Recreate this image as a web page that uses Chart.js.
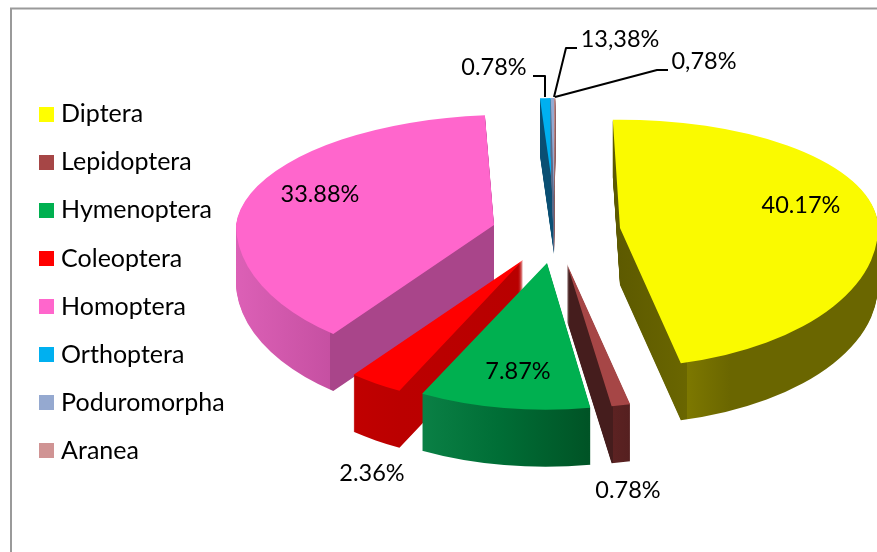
<!DOCTYPE html>
<html><head><meta charset="utf-8">
<style>html,body{margin:0;padding:0;background:#fff;overflow:hidden}canvas{display:block}</style>
<script src="https://cdn.jsdelivr.net/npm/chart.js@4"></script>
</head><body>
<div style="width:877px;height:552px;position:relative"><canvas id="c" width="877" height="552"></canvas></div>
<script>
// Legend categories
const categories = ['Diptera','Lepidoptera','Hymenoptera','Coleoptera','Homoptera','Orthoptera','Poduromorpha','Aranea'];
// Percentages as printed on the reference
const printedLabels = ['40.17%','0.78%','7.87%','2.36%','33.88%','0.78%','13,38%','0,78%'];
// Slice shares as actually drawn in the reference (angles; they differ from the printed text there)
const drawnShares = [46.7,1.11,10.14,3.2,37.9,0.67,0.22,0.06];
const topColors = ['#fafa00','#a64646','#00b050','#ff0000','#ff66cc','#00b0f0','#95a9d0','#d09494'];
const legendColors = ['#ffff00','#a64646','#00b050','#ff0000','#ff66cc','#00b0f0','#95a9d0','#d09494'];

// Style / layout tables
const DEPTH = 57, RADIUS = 258;
const apex = [[620,228],[567,264],[547,263],[523,260],[494,225],[554,197],[554,197],[554,197]];
const scaleX = [1,1.05,1.054,1.054,1,1,1,1];
const kBack = [.42,.42,.42,.42,.427,.384,.384,.384];
const kFront = [.539,.559,.569,.569,.54,.5,.5,.5];
const shearBack = [0,0,0,0,-.123,-.086,-.086,-.086];
const shearFront = [.005,0,-.01,0,0,0,0,0];
// wall colour stops: [x, colour] in page x
const wallStops = [
 [[613,'#5c5900'],[686,'#6a6600'],[686.01,'#7d7800'],[730,'#6a6600'],[877,'#6a6600']],
 [[567,'#451d1d'],[613,'#451d1d'],[613.01,'#5c2222'],[630,'#552020']],
 [[424,'#0a8045'],[500,'#006e36'],[589,'#005426']],
 [[357,'#c00000'],[400,'#bb0000'],[523,'#b80000']],
 [[236,'#dc60b6'],[330,'#c650a2'],[330.01,'#a9458a'],[496,'#a9458a']],
 [[539,'#0a4f73'],[556,'#0a4f73']],
 [[539,'#5a6a8a'],[560,'#5a6a8a']],
 [[539,'#8a5a5a'],[560,'#8a5a5a']]
];
const drawOrder = [4,5,6,7,0,3,1,2];
// Label anchors (centre of text) and leader lines
const labelAnchors = [[801,205],[628,490],[518,371],[372,473],[320,194],[494,67],[620,39],[704,61]];
const leaders = [[[533,76],[545,76],[545,97]],[[577,48],[566,48],[554,97]],[[668,70],[657,70],[555,97]]];
const FONT = 'Lato, Carlito, "Open Sans", sans-serif';

function swatch(color){
  const s=document.createElement('canvas'); s.width=15; s.height=15;
  const g=s.getContext('2d'); g.fillStyle=color; g.fillRect(0,0,15,15); return s;
}
const swatches = legendColors.map(swatch);

const pie3d = {
  id:'pie3d',
  beforeDraw(chart){
    const ctx=chart.ctx; ctx.save();
    ctx.fillStyle='#fff'; ctx.fillRect(0,0,chart.width,chart.height);
    ctx.strokeStyle='#9a9a9a'; ctx.lineWidth=2;
    ctx.beginPath(); ctx.moveTo(11,552); ctx.lineTo(11,8.5); ctx.lineTo(877,8.5); ctx.stroke();
    ctx.restore();
  },
  beforeDatasetDraw(chart){
    const ctx=chart.ctx, arcs=chart.getDatasetMeta(0).data;
    const place=(arc,i,d)=>{
      const [ax,ay]=apex[i];
      const pass=(clipY,clipH,k,sh)=>{
        ctx.save();
        ctx.beginPath(); ctx.rect(0,clipY,chart.width,clipH); ctx.clip();
        ctx.transform(scaleX[i],0,sh*k,k,ax,ay+d);
        ctx.translate(-arc.x,-arc.y);
        arc.draw(ctx);
        ctx.restore();
      };
      pass(-200,ay+d+200,kBack[i],shearBack[i]);
      pass(ay+d,chart.height+200,kFront[i],shearFront[i]);
    };
    drawOrder.forEach(i=>{
      const arc=arcs[i], saved=arc.options, [ax]=apex[i];
      const stops=wallStops[i], x0=stops[0][0], x1=stops[stops.length-1][0];
      const u=x=>arc.x+(x-ax)/scaleX[i];
      const g=ctx.createLinearGradient(u(x0),0,u(x1),0);
      stops.forEach(([x,c])=>g.addColorStop((x-x0)/(x1-x0),c));
      arc.options=Object.assign({},saved,{backgroundColor:g});
      for(let d=DEPTH;d>=1;d--) place(arc,i,d);
      arc.options=saved;
      place(arc,i,0);
    });
    return false;
  },
  afterDraw(chart){
    const ctx=chart.ctx; ctx.save();
    ctx.strokeStyle='#000'; ctx.lineWidth=2; ctx.lineJoin='round';
    leaders.forEach(l=>{ctx.beginPath();l.forEach(([x,y],j)=>j?ctx.lineTo(x,y):ctx.moveTo(x,y));ctx.stroke();});
    ctx.fillStyle='#000'; ctx.font='23.5px '+FONT; ctx.textAlign='center'; ctx.textBaseline='middle';
    printedLabels.forEach((t,i)=>ctx.fillText(t,labelAnchors[i][0],labelAnchors[i][1]));
    ctx.restore();
  }
};

new Chart(document.getElementById('c'),{
  type:'pie',
  data:{labels:categories,datasets:[{data:drawnShares,backgroundColor:topColors,borderWidth:0}]},
  options:{
    responsive:false,animation:false,radius:RADIUS,rotation:-1.6,
    layout:{padding:{left:21.5,top:13}},
    plugins:{
      tooltip:{enabled:false},
      legend:{position:'left',labels:{
        color:'#000',font:{family:FONT,size:25},padding:23.1,boxHeight:15,boxWidth:4,usePointStyle:true,pointStyleWidth:4,
        generateLabels:()=>categories.map((t,i)=>({text:t,fillStyle:legendColors[i],pointStyle:swatches[i],lineWidth:0,strokeStyle:'transparent',index:i,hidden:false}))
      }}
    }
  },
  plugins:[pie3d]
});
</script>
</body></html>
